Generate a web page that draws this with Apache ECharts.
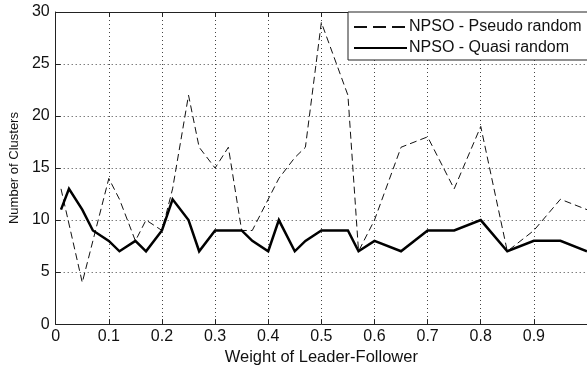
<!DOCTYPE html>
<html>
<head>
<meta charset="utf-8">
<script src="https://cdn.jsdelivr.net/npm/echarts@6/dist/echarts.min.js"></script>
<style>
  html, body { margin: 0; padding: 0; background: #fff; }
  #chart { width: 587px; height: 371px; }
</style>
</head>
<body>
<div id="chart"></div>
<script>
// Data
const pseudoX = [0.01, 0.05, 0.1, 0.12, 0.15, 0.17, 0.2, 0.22, 0.25, 0.27, 0.3, 0.325, 0.35, 0.37, 0.42, 0.45, 0.47, 0.5, 0.55, 0.57, 0.6, 0.65, 0.7, 0.75, 0.8, 0.85, 0.9, 0.95, 1.0]
const pseudoY = [13, 4, 14, 12, 8, 10, 9, 13, 22, 17, 15, 17, 9, 9, 14, 16, 17, 29, 22, 7, 10, 17, 18, 13, 19, 7, 9, 12, 11]

const quasiX = [0.01, 0.025, 0.05, 0.07, 0.1, 0.12, 0.15, 0.17, 0.2, 0.22, 0.25, 0.27, 0.3, 0.35, 0.37, 0.4, 0.42, 0.45, 0.47, 0.5, 0.55, 0.57, 0.6, 0.65, 0.7, 0.75, 0.8, 0.85, 0.9, 0.95, 1.0]
const quasiY = [11, 13, 11, 9, 8, 7, 8, 7, 9, 12, 10, 7, 9, 9, 8, 7, 10, 7, 8, 9, 9, 7, 8, 7, 9, 9, 10, 7, 8, 8, 7]

const seriesNames = ["NPSO - Pseudo random", "NPSO - Quasi random"]
const xTitle = "Weight of Leader-Follower"
const yTitle = "Number of Clusters"

const font = "Liberation Sans, Arial, sans-serif"
const ink = "#222"

const pairs = (xs, ys) => xs.map((x, i) => [x, ys[i]])

const chart = echarts.init(document.getElementById("chart"))

chart.setOption({
  animation: false,
  backgroundColor: "#fff",
  grid: { left: 53.5, top: 12, width: 535, height: 320, containLabel: false },
  legend: {
    orient: "vertical",
    left: 348,
    top: 12,
    itemWidth: 53,
    itemHeight: 14,
    itemGap: 5,
    padding: [7, 80, 4, 5],
    borderColor: ink,
    borderWidth: 1,
    borderRadius: 0,
    backgroundColor: "#fff",
    itemStyle: { opacity: 0 },
    textStyle: { fontFamily: font, fontSize: 16, color: "#111", padding: [0, 0, 0, -3] },
    data: [
      { name: seriesNames[0], lineStyle: { type: [13, 6] } },
      { name: seriesNames[1] },
    ],
  },
  xAxis: [
    {
      type: "value",
      min: 0,
      max: 1,
      interval: 0.1,
      name: xTitle,
      nameLocation: "middle",
      nameGap: 19,
      nameTextStyle: { fontFamily: font, fontSize: 16.5, color: "#111" },
      axisLine: { lineStyle: { color: ink, width: 1 } },
      axisTick: { inside: true, length: 5, lineStyle: { color: ink } },
      axisLabel: {
        fontFamily: font,
        fontSize: 16,
        color: "#111",
        margin: 4,
        showMaxLabel: false,
        formatter: (v) => (v >= 1 ? "" : String(Math.round(v * 10) / 10)),
      },
      splitLine: { show: true, lineStyle: { color: "#444", type: [1, 3], width: 1 } },
    },
    {
      type: "value",
      position: "top",
      min: 0,
      max: 1,
      interval: 0.1,
      axisLine: { show: true, lineStyle: { color: ink, width: 1 } },
      axisTick: { show: true, inside: true, length: 5, lineStyle: { color: ink } },
      axisLabel: { show: false },
      splitLine: { show: false },
    },
  ],
  yAxis: {
    type: "value",
    min: 0,
    max: 30,
    interval: 5,
    name: yTitle,
    nameLocation: "middle",
    nameGap: 32,
    nameTextStyle: { fontFamily: font, fontSize: 13, color: "#111" },
    axisLine: { show: true, lineStyle: { color: ink, width: 1 } },
    axisTick: { show: true, inside: true, length: 5, lineStyle: { color: ink } },
    axisLabel: { fontFamily: font, fontSize: 16, color: "#111", margin: 6 },
    splitLine: { show: true, lineStyle: { color: "#444", type: [1, 3], width: 1 } },
  },
  series: [
    {
      name: seriesNames[0],
      type: "line",
      symbol: "none",
      data: pairs(pseudoX, pseudoY),
      lineStyle: { color: "#111", width: 1, type: [7, 4] },
      itemStyle: { color: "#111" },
    },
    {
      name: seriesNames[1],
      type: "line",
      symbol: "none",
      data: pairs(quasiX, quasiY),
      lineStyle: { color: "#000", width: 2.5, join: "miter" },
      itemStyle: { color: "#000" },
    },
  ],
})
</script>
</body>
</html>
